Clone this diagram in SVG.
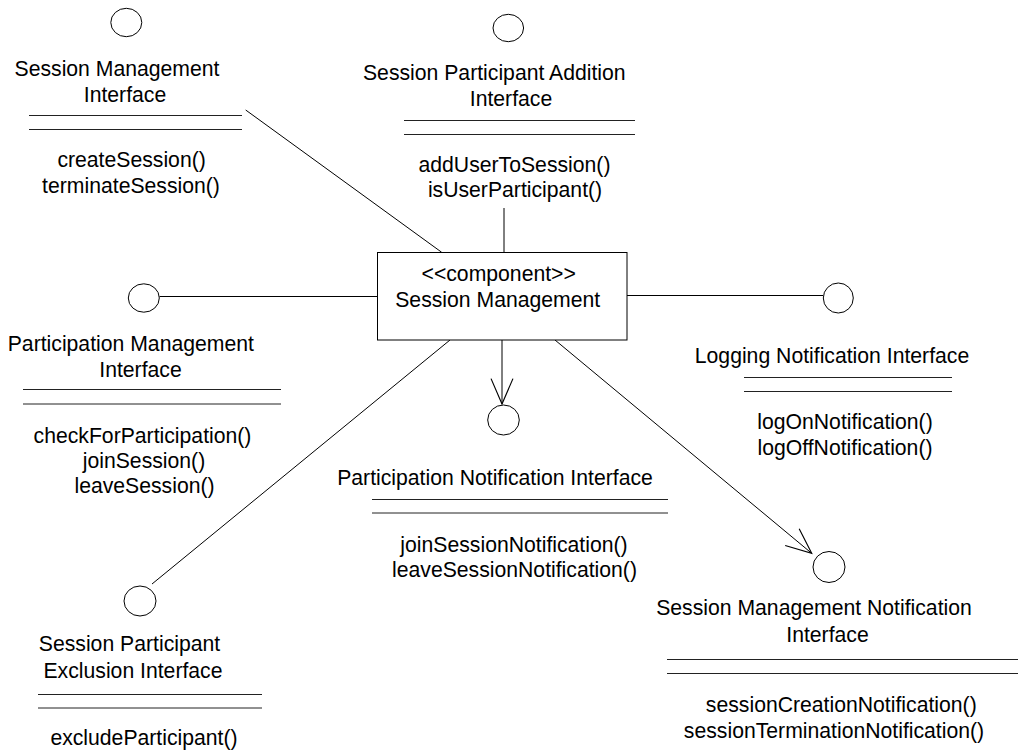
<svg xmlns="http://www.w3.org/2000/svg" width="1021" height="751" viewBox="0 0 1021 751">
  <style>
    text { font-family: "Liberation Sans", Arial, sans-serif; font-size: 21.2px; fill: #000; text-anchor: middle; }
    .ball { fill: #fff; stroke: #000; stroke-width: 1; }
    .sep { stroke: #222; stroke-width: 1; }
    .conn { fill: none; stroke: #000; stroke-width: 1; }
    .box { fill: #fff; stroke: #000; stroke-width: 1; }
  </style>
  <defs>
    <marker id="openArrow" markerUnits="userSpaceOnUse" markerWidth="30" markerHeight="30" viewBox="-24 -12 26 24" refX="0" refY="0" orient="auto">
      <path d="M -22 -9.5 L 0 0 L -22 9.5" fill="none" stroke="#000" stroke-width="1"/>
    </marker>
  </defs>
  <rect width="1021" height="751" fill="#fff"/>

  <!-- connectors -->
  <g id="connectors">
    <line class="conn" x1="245.7" y1="110" x2="441.7" y2="252.3"/>
    <line class="conn" x1="504" y1="208" x2="504" y2="252"/>
    <line class="conn" x1="159.5" y1="296.5" x2="377.5" y2="296.5"/>
    <line class="conn" x1="627" y1="295.5" x2="823" y2="295.5"/>
    <line class="conn" x1="502" y1="340" x2="502" y2="404" marker-end="url(#openArrow)"/>
    <line class="conn" x1="450" y1="340" x2="152" y2="584"/>
    <line class="conn" x1="555" y1="340" x2="811.7" y2="553.3" marker-end="url(#openArrow)"/>
  </g>

  <!-- component -->
  <g id="session-management">
    <rect class="box" x="377.5" y="252.5" width="249.5" height="87.5"/>
    <text x="498.7" y="281">&lt;&lt;component&gt;&gt;</text>
    <text x="497.7" y="306.5">Session Management</text>
  </g>

  <!-- provided / required interfaces -->
  <g id="session-management-interface">
    <ellipse class="ball" cx="126.3" cy="22.5" rx="15.5" ry="14.2"/>
    <text x="117" y="76">Session Management</text>
    <text x="125" y="101.7">Interface</text>
    <line class="sep" x1="29" y1="115.5" x2="242" y2="115.5"/>
    <line class="sep" x1="29" y1="129.5" x2="242" y2="129.5"/>
    <text x="131.6" y="166.7">createSession()</text>
    <text x="131" y="192.7">terminateSession()</text>
  </g>

  <g id="session-participant-addition-interface">
    <ellipse class="ball" cx="508.3" cy="28" rx="15.3" ry="13.7"/>
    <text x="494.3" y="80">Session Participant Addition</text>
    <text x="511" y="106">Interface</text>
    <line class="sep" x1="404" y1="120.5" x2="635" y2="120.5"/>
    <line class="sep" x1="404" y1="134.5" x2="635" y2="134.5"/>
    <text x="514.5" y="171.5">addUserToSession()</text>
    <text x="515" y="197">isUserParticipant()</text>
  </g>

  <g id="participation-management-interface">
    <ellipse class="ball" cx="143.8" cy="298" rx="15.5" ry="14.2"/>
    <text x="130.8" y="351">Participation Management</text>
    <text x="140.5" y="376.5">Interface</text>
    <line class="sep" x1="23" y1="389.5" x2="281" y2="389.5"/>
    <line class="sep" x1="23" y1="404" x2="281" y2="404"/>
    <text x="142.5" y="443">checkForParticipation()</text>
    <text x="144" y="468">joinSession()</text>
    <text x="144.5" y="493">leaveSession()</text>
  </g>

  <g id="logging-notification-interface">
    <ellipse class="ball" cx="838.3" cy="298" rx="15" ry="15"/>
    <text x="832" y="362.5">Logging Notification Interface</text>
    <line class="sep" x1="744" y1="377.5" x2="952" y2="377.5"/>
    <line class="sep" x1="744" y1="391.5" x2="952" y2="391.5"/>
    <text x="845" y="429">logOnNotification()</text>
    <text x="845" y="455">logOffNotification()</text>
  </g>

  <g id="participation-notification-interface">
    <ellipse class="ball" cx="503.5" cy="420" rx="15.8" ry="15"/>
    <text x="495" y="485">Participation Notification Interface</text>
    <line class="sep" x1="372" y1="499.5" x2="668" y2="499.5"/>
    <line class="sep" x1="372" y1="513" x2="668" y2="513"/>
    <text x="514" y="551.7">joinSessionNotification()</text>
    <text x="514.5" y="576.7">leaveSessionNotification()</text>
  </g>

  <g id="session-participant-exclusion-interface">
    <ellipse class="ball" cx="140" cy="601" rx="16" ry="15"/>
    <text x="129.5" y="651">Session Participant</text>
    <text x="133" y="678">Exclusion Interface</text>
    <line class="sep" x1="38" y1="694.5" x2="262" y2="694.5"/>
    <line class="sep" x1="38" y1="708" x2="262" y2="708"/>
    <text x="144" y="745">excludeParticipant()</text>
  </g>

  <g id="session-management-notification-interface">
    <ellipse class="ball" cx="829" cy="567" rx="16" ry="15.5"/>
    <text x="814" y="615">Session Management Notification</text>
    <text x="827.5" y="641.7">Interface</text>
    <line class="sep" x1="667" y1="659.5" x2="1018" y2="659.5"/>
    <line class="sep" x1="667" y1="673.5" x2="1018" y2="673.5"/>
    <text x="841.3" y="711.7">sessionCreationNotification()</text>
    <text x="834" y="738.3">sessionTerminationNotification()</text>
  </g>
</svg>
